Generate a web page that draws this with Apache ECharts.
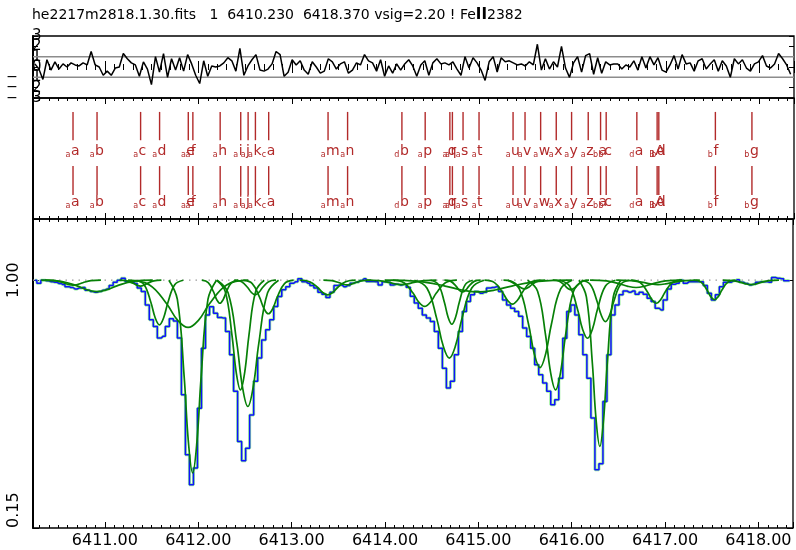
<!DOCTYPE html>
<html>
<head>
<meta charset="utf-8">
<script src="https://cdn.jsdelivr.net/npm/echarts@6/dist/echarts.min.js"></script>
<style>
html,body{margin:0;padding:0;background:#fff;}
#main{width:796px;height:550px;}
</style>
</head>
<body>
<div id="main"></div>
<script>
// wavelength range and pixel grid
var waveMin = 6410.23, waveMax = 6418.37;
var pixStart = 6410.25, pixStep = 0.043;

// normalised flux per pixel
var flux = [
 1.000,0.990,1.000,0.998,0.995,0.993,0.989,0.985,0.978,0.975,
 0.970,0.973,0.975,0.966,0.961,0.959,0.961,0.966,0.970,0.982,
 0.993,1.000,1.007,0.995,0.993,0.989,0.973,0.961,0.915,0.864,
 0.841,0.802,0.808,0.841,0.868,0.860,0.802,0.607,0.401,0.298,
 0.356,0.561,0.767,0.881,0.909,0.887,0.872,0.870,0.824,0.744,
 0.619,0.447,0.381,0.424,0.538,0.653,0.733,0.795,0.830,0.864,
 0.910,0.944,0.967,0.978,0.990,0.995,1.005,0.995,0.990,0.982,
 0.973,0.959,0.952,0.941,0.959,0.982,0.984,0.978,0.982,0.990,
 0.993,0.999,1.005,0.996,0.996,0.995,0.984,0.995,0.993,0.984,
 0.986,0.984,0.986,0.976,0.945,0.922,0.904,0.881,0.870,0.858,
 0.824,0.767,0.698,0.630,0.653,0.744,0.824,0.893,0.927,0.950,
 0.961,0.955,0.959,0.973,0.975,0.978,0.961,0.932,0.915,0.904,
 0.893,0.876,0.836,0.807,0.767,0.710,0.676,0.647,0.619,0.573,
 0.590,0.664,0.801,0.893,0.915,0.881,0.813,0.744,0.664,0.527,
 0.350,0.370,0.584,0.744,0.881,0.915,0.950,0.963,0.959,0.963,
 0.952,0.959,0.952,0.938,0.927,0.904,0.898,0.932,0.970,0.986,
 0.990,1.000,0.990,0.995,0.995,0.995,0.995,0.982,0.955,0.932,
 0.950,0.978,0.993,0.993,0.998,1.002,0.993,0.989,0.984,0.986,
 0.993,0.995,0.995,0.993,1.009,1.007,1.005,0.998,0.998
];

// normalised residuals per pixel
var resid = [
 0.3,-0.2,-1.2,0.7,-0.3,0.5,-0.2,0.3,0.0,0.4,
 0.2,0.1,0.4,0.2,1.5,0.2,0.0,-0.8,-0.4,-0.8,
 -0.1,0.0,1.3,0.8,0.4,0.2,-0.9,0.5,-0.2,-1.7,
 1.0,-0.5,1.3,-1.0,0.8,-0.3,0.9,-0.4,1.2,0.3,
 -0.8,-1.6,0.6,-0.9,0.1,0.0,0.1,0.4,0.9,0.6,
 -0.4,1.8,-0.8,0.1,0.7,1.2,-0.3,-0.4,-0.2,0.3,
 1.5,1.2,-0.9,-0.5,0.7,0.2,0.6,-0.3,-0.7,0.5,
 0.0,-0.6,-0.4,0.8,0.5,-0.2,0.3,0.5,-0.6,-0.3,
 0.4,0.2,1.2,0.6,0.4,-0.4,0.7,-0.9,0.1,-0.6,
 0.3,-0.3,0.3,0.7,0.1,-0.9,0.2,0.6,-0.8,0.4,
 0.8,0.3,0.4,0.2,0.5,-0.2,-0.8,1.0,-0.1,0.9,
 0.4,-0.3,-1.3,0.5,1.0,-0.5,0.9,0.5,0.6,0.4,
 0.2,0.3,0.1,0.5,0.2,2.2,-0.3,0.8,-0.2,0.5,
 0.0,2.0,-0.1,-1.0,0.4,1.0,-0.5,1.1,1.3,-0.7,
 0.9,-0.6,0.5,0.2,0.3,0.3,-0.2,0.2,0.0,0.6,
 -0.3,1.0,-0.1,1.0,0.2,0.9,-0.3,-0.5,0.2,1.1,
 -0.2,1.2,0.3,0.4,-0.4,0.6,0.8,-0.2,0.3,0.7,
 -0.4,0.6,0.1,-1.0,0.8,0.3,0.7,-0.1,-0.4,0.3,
 0.5,1.1,0.1,-0.1,0.3,1.3,0.8,0.2,-0.7
];

// fitted components: centre, minimum flux, FWHM (Angstrom), id letters
var compWave = [6410.658,6410.915,6411.381,6411.584,6411.891,6411.940,6412.232,6412.452,
 6412.531,6412.609,6412.751,6413.386,6413.595,6414.176,6414.425,6414.689,6414.716,6414.830,
 6415.001,6415.365,6415.493,6415.660,6415.827,6415.991,6416.169,6416.301,6416.361,6416.689,
 6416.906,6416.924,6417.529,6417.920];
var compMin = [0.983,0.961,0.980,0.847,0.838,0.339,0.921,0.624,
 0.567,0.950,0.885,0.950,0.984,0.985,0.910,0.733,0.849,0.960,
 0.960,0.918,0.970,0.700,0.624,0.967,0.801,0.430,0.858,0.975,
 0.921,0.985,0.933,0.985];
var compFwhm = [0.214,0.427,0.160,0.182,0.459,0.182,0.139,0.182,
 0.235,0.160,0.192,0.214,0.182,0.267,0.246,0.267,0.160,0.139,
 0.715,0.214,0.160,0.246,0.214,0.139,0.214,0.160,0.182,0.352,
 0.192,0.320,0.160,0.214];
var compName = ['a','b','c','d','e','f','h','i','j','k','a','m','n','b','p','q','r','s',
 't','u','v','w','x','y','z','a','c','a','A','d','f','g'];
var compSub = ['a','a','a','a','a','a','a','a','a','a','c','a','a','d','a','a','a','a',
 'a','a','a','a','a','a','a','b','b','d','B','b','b','b'];

var residTicks = [3, 2, 1, 0, -1, -2, -3];
var fluxLabels = ['0.15','1.00'];

var FONT = 'DejaVu Sans';
var RED = '#b22a2a';

var specData = flux.map(function (f, i) { return [pixStart + i * pixStep, f]; });
var residData = resid.map(function (r, i) { return [pixStart + i * pixStep, r]; });

function xAx(grid, pos, labels) {
  return {
    type: 'value', gridIndex: grid, position: pos, min: waveMin, max: waveMax, splitNumber: 8,
    axisLine: {show: false},
    axisTick: {show: true, inside: true, length: 6, lineStyle: {color: '#000', width: 1}},
    minorTick: {show: true, splitNumber: 10, length: 3, lineStyle: {color: '#000', width: 1}},
    splitLine: {show: false},
    axisLabel: {
      show: labels, margin: 5, fontSize: 16, fontFamily: FONT, color: '#000',
      formatter: function (v) { return Math.abs(v - Math.round(v)) < 1e-6 ? v.toFixed(2) : ''; }
    }
  };
}

var grids = [
  {left: 33, right: 2, top: 36, height: 62, show: true, borderColor: '#000', borderWidth: 1.3},
  {left: 33, right: 2, top: 98, height: 121, show: true, borderColor: '#000', borderWidth: 1.3},
  {left: 33, right: 2, top: 219, height: 309, show: true, borderColor: '#000', borderWidth: 1.3}
];

var yAxes = [
  {
    type: 'value', gridIndex: 0, position: 'left', min: -3, max: 3, interval: 1,
    axisLine: {show: true, lineStyle: {color: '#000', width: 2}},
    axisTick: {show: true, inside: true, length: 5, lineStyle: {color: '#000'}},
    splitLine: {show: false}, axisLabel: {show: false}
  },
  {
    type: 'value', gridIndex: 0, position: 'right', min: -3, max: 3, interval: 1,
    axisLine: {show: false}, splitLine: {show: false}, axisLabel: {show: false},
    axisTick: {show: true, inside: true, length: 5, lineStyle: {color: '#000'}}
  },
  {
    type: 'value', gridIndex: 1, min: 0, max: 1,
    axisLine: {show: true, lineStyle: {color: '#000', width: 2}},
    axisTick: {show: false}, axisLabel: {show: false}, splitLine: {show: false}
  },
  {
    type: 'value', gridIndex: 2, position: 'left', min: 0.15, max: 1.21, interval: 0.85,
    axisLine: {show: true, lineStyle: {color: '#000', width: 2}},
    axisTick: {show: true, inside: true, length: 6, lineStyle: {color: '#000'}},
    splitLine: {show: false},
    axisLabel: {rotate: 90, margin: 11, fontSize: 16, fontFamily: FONT, color: '#000',
      alignMinLabel: 'left', showMinLabel: true,
      formatter: function (v) {
        if (Math.abs(v - 0.15) < 1e-6) return fluxLabels[0];
        if (Math.abs(v - 1) < 1e-6) return fluxLabels[1];
        return '';
      }}
  },
  {
    type: 'value', gridIndex: 2, position: 'right', min: 0.15, max: 1.21, interval: 0.85,
    axisLine: {show: false}, splitLine: {show: false}, axisLabel: {show: false},
    axisTick: {show: true, inside: true, length: 6, lineStyle: {color: '#000'}}
  }
];

var xAxes = [xAx(0, 'bottom', false), xAx(0, 'top', false), xAx(1, 'bottom', false),
  xAx(1, 'top', false), xAx(2, 'bottom', true), xAx(2, 'top', false)];

// tick rows in the middle panel (panel units 0..1)
var rows = [
  {top: 0.885, bot: 0.651, lab: 0.561, sub: 0.530},
  {top: 0.437, bot: 0.198, lab: 0.138, sub: 0.104}
];

var series = [
  { // residual axis numbers, drawn at their tick values (every label kept, overlapping as in the original)
    type: 'custom', xAxisIndex: 0, yAxisIndex: 0, silent: true, clip: false,
    data: residTicks.map(function (v) { return [waveMin, v]; }),
    renderItem: function (params, api) {
      var v = api.value(1), p = api.coord([waveMin, v]), kids = [];
      kids.push({type: 'text', style: {text: String(Math.abs(v)), x: p[0] - 1, y: p[1], fill: '#000',
        fontSize: 15, fontFamily: FONT, align: 'left', verticalAlign: 'middle'}});
      if (v < 0) {
        kids.push({type: 'text', style: {text: '\u2212', x: p[0] - 15, y: p[1], fill: '#000',
          fontSize: 14, fontFamily: FONT, align: 'right', verticalAlign: 'middle'}});
      }
      return {type: 'group', children: kids};
    }
  },
  {type: 'line', xAxisIndex: 0, yAxisIndex: 0, symbol: 'none', silent: true,
    data: [[waveMin, 1], [waveMax, 1]], lineStyle: {color: '#8c8c8c', width: 1.5}},
  {type: 'line', xAxisIndex: 0, yAxisIndex: 0, symbol: 'none', silent: true,
    data: [[waveMin, -1], [waveMax, -1]], lineStyle: {color: '#8c8c8c', width: 1.5}},
  {type: 'line', xAxisIndex: 0, yAxisIndex: 0, symbol: 'none', silent: true,
    data: residData, lineStyle: {color: '#000', width: 1.5}},
  {
    type: 'custom', xAxisIndex: 2, yAxisIndex: 2, silent: true,
    data: compWave.map(function (w, i) { return [w, i]; }),
    renderItem: function (params, api) {
      var w = api.value(0), idx = api.value(1), kids = [];
      rows.forEach(function (r) {
        var a = api.coord([w, r.top]), b = api.coord([w, r.bot]);
        var t = api.coord([w, r.lab]), s = api.coord([w, r.sub]);
        kids.push({type: 'line', shape: {x1: a[0], y1: a[1], x2: b[0], y2: b[1]},
          style: {stroke: RED, lineWidth: 1.4}});
        kids.push({type: 'text', style: {text: compName[idx], x: t[0] - 2, y: t[1], fill: RED,
          fontSize: 14, fontFamily: FONT, align: 'left', verticalAlign: 'middle'}});
        kids.push({type: 'text', style: {text: compSub[idx], x: s[0] - 2.5, y: s[1], fill: RED,
          fontSize: 8, fontFamily: FONT, align: 'right', verticalAlign: 'middle'}});
      });
      return {type: 'group', children: kids};
    }
  },
  {type: 'line', xAxisIndex: 4, yAxisIndex: 3, symbol: 'none', silent: true,
    data: [[waveMin, 1], [waveMax, 1]], lineStyle: {color: '#9a9a9a', width: 1.3, type: [1.5, 5]}},
  {type: 'line', xAxisIndex: 4, yAxisIndex: 3, symbol: 'none', silent: true, step: 'middle',
    data: specData, lineStyle: {color: '#98ee98', width: 3}},
  {type: 'line', xAxisIndex: 4, yAxisIndex: 3, symbol: 'none', silent: true, step: 'middle',
    data: specData, lineStyle: {color: '#1010ff', width: 1.5}}
];

// component profiles from key points, smoothed by the library
var keyPts = [[-1.4, 0], [-0.9, 0.1], [-0.5, 0.5], [-0.25, 0.84], [0, 1],
  [0.25, 0.84], [0.5, 0.5], [0.9, 0.1], [1.4, 0]];
compWave.forEach(function (w, i) {
  var depth = 1 - compMin[i];
  series.push({
    type: 'line', xAxisIndex: 4, yAxisIndex: 3, symbol: 'none', silent: true, smooth: 0.4,
    data: keyPts.map(function (k) { return [w + k[0] * compFwhm[i], 1 - depth * k[1]]; }),
    lineStyle: {color: '#078007', width: 1.7}
  });
});

var chart = echarts.init(document.getElementById('main'));
chart.setOption({
  animation: false,
  backgroundColor: '#fff',
  title: {
    text: 'he2217m2818.1.30.fits   1  6410.230  6418.370 vsig=2.20 ! Fe{r|II}2382',
    left: 27, top: 3,
    textStyle: {fontSize: 14, fontWeight: 'normal', fontFamily: FONT, color: '#000',
      rich: {r: {fontSize: 15, fontWeight: 'bold', fontFamily: FONT, color: '#000'}}}
  },
  grid: grids,
  xAxis: xAxes,
  yAxis: yAxes,
  series: series
});
</script>
</body>
</html>
